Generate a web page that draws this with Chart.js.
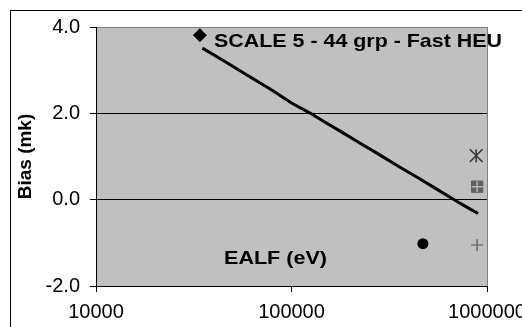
<!DOCTYPE html>
<html>
<head>
<meta charset="utf-8">
<script src="https://cdn.jsdelivr.net/npm/chart.js@4"></script>
<style>
  html, body { margin: 0; padding: 0; background: #fff; overflow: hidden; width: 522px; height: 327px; }
  #frame { position: absolute; left: 10px; top: 10px; width: 600px; height: 400px; border: 1px solid #000; }
  #wrap { position: absolute; left: 0; top: 0; }
</style>
</head>
<body>
<div id="frame"></div>
<div id="wrap"><canvas id="bias" width="560" height="327"></canvas></div>
<script>
/* global Chart */

// trend line, EALF (eV) vs bias (mk)
const ealfLine = [35000, 45000, 60000, 80000, 100000, 125000, 150000, 180000, 220000, 280000, 350000, 450000, 550000, 680000, 800000, 900000]
const biasLine = [3.51, 3.22, 2.87, 2.53, 2.24, 2.00, 1.78, 1.57, 1.33, 1.05, 0.78, 0.49, 0.25, 0.00, -0.19, -0.32]

// single markers: diamond, star, square, circle, plus
const markerEalf = [34000, 880000, 890000, 470000, 890000]
const markerBias = [3.81, 1.02, 0.30, -1.02, -1.05]

const xTicks = [10000, 100000, 1000000]
const yTicks = [-2, 0, 2, 4]

const FONT = 'Arial, "Liberation Sans", sans-serif'

const pt = i => [{ x: markerEalf[i], y: markerBias[i] }]

function marker (i, style, opts) {
  return Object.assign({
    data: pt(i),
    pointStyle: style,
    pointRadius: 6,
    pointBorderWidth: 1,
    pointBackgroundColor: '#000',
    pointBorderColor: '#000',
    showLine: false
  }, opts)
}

function fitText (ctx, text, x, y, size, width) {
  ctx.save()
  ctx.font = `bold ${size}px ${FONT}`
  const w = ctx.measureText(text).width
  ctx.translate(x, y)
  ctx.scale(width / w, 1)
  ctx.fillStyle = '#000'
  ctx.textBaseline = 'alphabetic'
  ctx.fillText(text, 0, 0)
  ctx.restore()
}

const plotArea = {
  id: 'plotArea',
  beforeDraw (chart) {
    const { ctx, chartArea: a } = chart
    ctx.save()
    ctx.fillStyle = '#c0c0c0'
    ctx.fillRect(a.left, a.top, a.right - a.left, a.bottom - a.top)
    ctx.restore()
  },
  beforeDatasetsDraw (chart) {
    const { ctx, chartArea: a } = chart
    ctx.save()
    ctx.strokeStyle = '#808080'
    ctx.lineWidth = 1
    ctx.beginPath()
    ctx.moveTo(a.right + 0.5, a.top)
    ctx.lineTo(a.right + 0.5, a.bottom)
    ctx.stroke()
    ctx.restore()
  },
  afterDatasetsDraw (chart) {
    const { ctx, chartArea: a } = chart
    fitText(ctx, 'SCALE 5 - 44 grp - Fast HEU', a.left + 118, a.top + 19.5, 19, 288)
    fitText(ctx, 'EALF (eV)', a.left + 128, a.top + 237, 19, 103)
  }
}

// datasets are painted last-to-first, so overlays come earlier in the list
const chart = new Chart(document.getElementById('bias'), {
  type: 'scatter',
  data: {
    datasets: [
      {
        data: ealfLine.map((x, i) => ({ x, y: biasLine[i] })),
        showLine: true,
        borderColor: '#000',
        borderWidth: 3,
        pointRadius: 0,
        tension: 0
      },
      marker(0, 'rectRot', { pointRadius: 6.5 }),
      marker(1, 'crossRot', { pointRadius: 9, pointBorderColor: '#333', pointBorderWidth: 1.5 }),
      marker(1, 'line', { pointRadius: 6.5, pointRotation: 90, pointBorderColor: '#333', pointBorderWidth: 1.5 }),
      marker(2, 'cross', { pointRadius: 5.5, pointBorderColor: '#b8b8b8', pointBorderWidth: 1.5 }),
      marker(2, 'rect', { pointRadius: 8, pointBackgroundColor: '#606060', pointBorderColor: '#606060' }),
      marker(3, 'circle', { pointRadius: 5.5, pointBorderWidth: 0 }),
      marker(4, 'cross', { pointRadius: 6, pointBorderColor: '#555', pointBorderWidth: 1.2 })
    ]
  },
  options: {
    responsive: false,
    animation: false,
    events: [],
    layout: { padding: { left: 16, top: 27, right: 73, bottom: 0 } },
    plugins: { legend: { display: false }, tooltip: { enabled: false } },
    scales: {
      x: {
        type: 'logarithmic',
        min: 10000,
        max: 1000000,
        afterBuildTicks: axis => { axis.ticks = xTicks.map(value => ({ value })) },
        afterFit: axis => { axis.height = 41 },
        ticks: {
          color: '#000',
          font: { family: FONT, size: 20 },
          padding: 8,
          maxRotation: 0,
          autoSkip: false,
          callback: v => String(v)
        },
        grid: { drawOnChartArea: false, tickLength: 6, tickColor: '#000' },
        border: { color: '#000', width: 1 }
      },
      y: {
        min: -2,
        max: 4,
        afterBuildTicks: axis => { axis.ticks = yTicks.map(value => ({ value })) },
        afterFit: axis => { axis.width = 80 },
        ticks: {
          color: '#000',
          font: { family: FONT, size: 20 },
          padding: 10,
          callback: v => v.toFixed(1)
        },
        grid: {
          color: c => (c.tick && c.tick.value === 4 ? '#808080' : '#000'),
          tickColor: '#000',
          tickLength: 6,
          lineWidth: 1
        },
        border: { color: '#000', width: 1 },
        title: {
          display: true,
          text: 'Bias (mk)',
          color: '#000',
          font: { family: FONT, size: 19, weight: 'bold', lineHeight: 1 },
          padding: 0
        }
      }
    }
  },
  plugins: [plotArea]
})
</script>
</body>
</html>
